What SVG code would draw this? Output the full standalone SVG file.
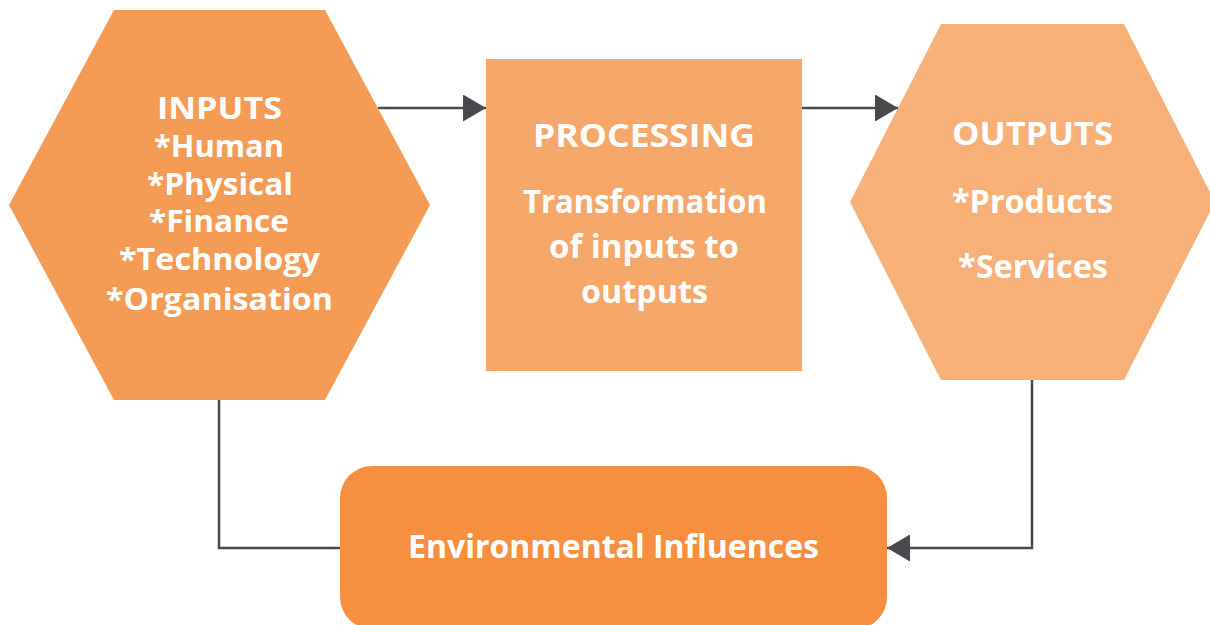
<svg xmlns="http://www.w3.org/2000/svg" width="1210" height="625" viewBox="0 0 1210 625">
<defs>
<style>
.lbl{font-family:"Open Sans",Lato,"Liberation Sans",sans-serif;font-weight:700;fill:#ffffff;text-anchor:middle;font-variant-ligatures:none;}
.conn{fill:none;stroke:#48494d;stroke-width:2.5;}
</style>
<marker id="arr" viewBox="0 0 23 27" refX="23" refY="13.5" markerWidth="23" markerHeight="27" markerUnits="userSpaceOnUse" orient="auto">
<path d="M0,0 L23,13.5 L0,27 Z" fill="#48494d"/>
</marker>
</defs>
<rect width="1210" height="625" fill="#ffffff"/>
<g id="connectors">
<line class="conn" x1="378" y1="108" x2="486" y2="108" marker-end="url(#arr)"/>
<line class="conn" x1="802" y1="108" x2="898" y2="108" marker-end="url(#arr)"/>
<polyline class="conn" points="219,400 219,548 340,548"/>
<polyline class="conn" points="1032,380 1032,548 887,548" marker-end="url(#arr)"/>
</g>
<g id="inputs">
<polygon points="114,10 325,10 430,205 325,400 114,400 9,205" fill="#f49b56"/>
<text class="lbl" font-size="30" x="219.5" y="119" textLength="125" lengthAdjust="spacingAndGlyphs">INPUTS</text>
<text class="lbl" font-size="30" x="219" y="157" textLength="130" lengthAdjust="spacingAndGlyphs">*Human</text>
<text class="lbl" font-size="30" x="220" y="195" textLength="146" lengthAdjust="spacingAndGlyphs">*Physical</text>
<text class="lbl" font-size="30" x="219" y="232" textLength="140" lengthAdjust="spacingAndGlyphs">*Finance</text>
<text class="lbl" font-size="30" x="219.5" y="270" textLength="201" lengthAdjust="spacingAndGlyphs">*Technology</text>
<text class="lbl" font-size="30" x="219.5" y="310" textLength="227" lengthAdjust="spacingAndGlyphs">*Organisation</text>
</g>
<g id="processing">
<rect x="486" y="59" width="316" height="312" fill="#f6a76a"/>
<text class="lbl" font-size="32" x="644" y="147" textLength="222" lengthAdjust="spacingAndGlyphs">PROCESSING</text>
<text class="lbl" font-size="32" x="645" y="213" textLength="244" lengthAdjust="spacingAndGlyphs">Transformation</text>
<text class="lbl" font-size="32" x="644" y="258" textLength="190" lengthAdjust="spacingAndGlyphs">of inputs to</text>
<text class="lbl" font-size="32" x="644.5" y="303" textLength="127" lengthAdjust="spacingAndGlyphs">outputs</text>
</g>
<g id="outputs">
<polygon points="941,24 1124,24 1215,202 1124,380 941,380 850,202" fill="#f7b078"/>
<text class="lbl" font-size="32" x="1032.5" y="145" textLength="161" lengthAdjust="spacingAndGlyphs">OUTPUTS</text>
<text class="lbl" font-size="32" x="1032.5" y="213" textLength="161" lengthAdjust="spacingAndGlyphs">*Products</text>
<text class="lbl" font-size="32" x="1033" y="278" textLength="150" lengthAdjust="spacingAndGlyphs">*Services</text>
</g>
<g id="environment">
<rect x="340" y="466" width="547" height="163" rx="32" ry="32" fill="#f68f40"/>
<text class="lbl" font-size="32" x="613.5" y="558" textLength="411" lengthAdjust="spacingAndGlyphs">Environmental Influences</text>
</g>
</svg>
